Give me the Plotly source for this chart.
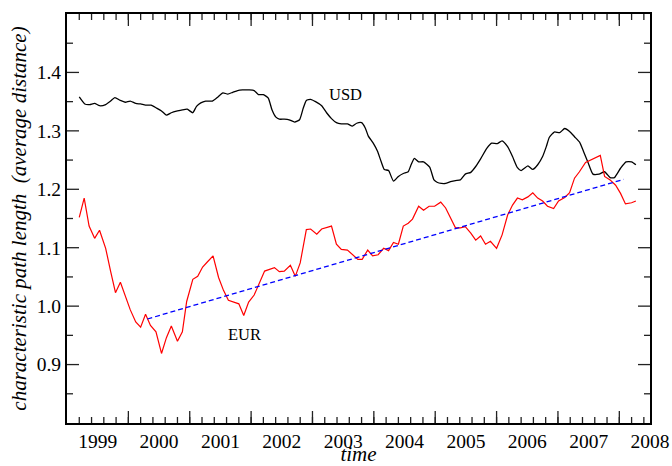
import plotly.graph_objects as go

# USD series (decimal year, average distance)
usd_year = [
    1998.70, 1998.79, 1998.87, 1998.95, 1999.03, 1999.13, 1999.21, 1999.28, 1999.37, 1999.45,
    1999.53, 1999.62, 1999.70, 1999.78, 1999.87, 1999.96, 2000.04, 2000.12, 2000.20, 2000.30,
    2000.38, 2000.46, 2000.55, 2000.61, 2000.68, 2000.76, 2000.87, 2000.96, 2001.04, 2001.12,
    2001.20, 2001.28, 2001.36, 2001.47, 2001.55, 2001.62, 2001.70, 2001.78, 2001.84, 2001.90,
    2001.96, 2002.04, 2002.12, 2002.21, 2002.29, 2002.35, 2002.40, 2002.47, 2002.55, 2002.65,
    2002.73, 2002.81, 2002.89, 2002.97, 2003.07, 2003.15, 2003.22, 2003.30, 2003.36, 2003.41,
    2003.49, 2003.56, 2003.62, 2003.67, 2003.74, 2003.82, 2003.90, 2003.98, 2004.06, 2004.10,
    2004.16, 2004.23, 2004.31, 2004.41, 2004.48, 2004.53, 2004.60, 2004.67, 2004.75, 2004.83,
    2004.91, 2004.99, 2005.08, 2005.16, 2005.24, 2005.34, 2005.42, 2005.51, 2005.59, 2005.68,
    2005.76, 2005.84, 2005.90, 2006.01, 2006.09, 2006.17, 2006.25, 2006.31, 2006.36, 2006.44,
    2006.53, 2006.61, 2006.69, 2006.77, 2006.85, 2006.92, 2006.99, 2007.07, 2007.17, 2007.26,
    2007.35, 2007.42, 2007.52, 2007.61, 2007.70, 2007.77,
]
usd_dist = [
    1.358, 1.346, 1.345, 1.347, 1.343, 1.345, 1.351, 1.357, 1.352, 1.349,
    1.351, 1.347, 1.346, 1.344, 1.344, 1.339, 1.334, 1.327, 1.331, 1.334,
    1.336, 1.337, 1.331, 1.342, 1.348, 1.351, 1.351, 1.358, 1.365, 1.363,
    1.366, 1.369, 1.370, 1.370, 1.369, 1.362, 1.362, 1.356, 1.336, 1.324,
    1.320, 1.320, 1.319, 1.315, 1.319, 1.339, 1.352, 1.354, 1.350, 1.343,
    1.331, 1.321, 1.314, 1.312, 1.312, 1.308, 1.313, 1.314, 1.305, 1.291,
    1.279, 1.265, 1.247, 1.234, 1.232, 1.214, 1.222, 1.227, 1.230, 1.240,
    1.253, 1.247, 1.247, 1.238, 1.216, 1.212, 1.210, 1.210, 1.213, 1.215,
    1.216, 1.226, 1.229, 1.239, 1.252, 1.270, 1.279, 1.278, 1.283, 1.273,
    1.256, 1.237, 1.232, 1.240, 1.234, 1.242, 1.256, 1.273, 1.289, 1.298,
    1.297, 1.304, 1.299, 1.290, 1.281, 1.264, 1.246, 1.226, 1.226, 1.230,
    1.220, 1.220, 1.236, 1.247, 1.247, 1.242,
]

# EUR series
eur_year = [
    1998.70, 1998.78, 1998.86, 1998.95, 1999.03, 1999.13, 1999.21, 1999.29, 1999.37, 1999.45,
    1999.53, 1999.62, 1999.70, 1999.78, 1999.86, 1999.95, 2000.04, 2000.12, 2000.20, 2000.30,
    2000.38, 2000.45, 2000.55, 2000.63, 2000.71, 2000.79, 2000.88, 2000.97, 2001.05, 2001.13,
    2001.21, 2001.30, 2001.38, 2001.46, 2001.55, 2001.63, 2001.72, 2001.80, 2001.88, 2001.96,
    2002.04, 2002.14, 2002.22, 2002.30, 2002.35, 2002.40, 2002.47, 2002.57, 2002.65, 2002.73,
    2002.81, 2002.89, 2002.97, 2003.07, 2003.15, 2003.24, 2003.31, 2003.40, 2003.48, 2003.57,
    2003.66, 2003.74, 2003.82, 2003.90, 2003.98, 2004.06, 2004.13, 2004.23, 2004.31, 2004.40,
    2004.49, 2004.59, 2004.67, 2004.75, 2004.83, 2004.91, 2004.99, 2005.08, 2005.16, 2005.24,
    2005.32, 2005.40, 2005.50, 2005.59, 2005.68, 2005.76, 2005.84, 2005.92, 2006.01, 2006.09,
    2006.17, 2006.25, 2006.33, 2006.43, 2006.51, 2006.61, 2006.69, 2006.77, 2006.85, 2006.95,
    2007.04, 2007.12, 2007.19, 2007.26, 2007.35, 2007.44, 2007.52, 2007.60, 2007.70, 2007.77,
]
eur_dist = [
    1.152, 1.185, 1.137, 1.116, 1.130, 1.099, 1.060, 1.023, 1.041, 1.019,
    0.994, 0.973, 0.964, 0.986, 0.967, 0.956, 0.919, 0.946, 0.966, 0.940,
    0.956, 1.008, 1.046, 1.051, 1.067, 1.076, 1.086, 1.049, 1.027, 1.010,
    1.007, 1.004, 0.984, 1.007, 1.019, 1.039, 1.060, 1.063, 1.066, 1.059,
    1.060, 1.070, 1.051, 1.074, 1.102, 1.131, 1.132, 1.123, 1.132, 1.134,
    1.137, 1.106, 1.097, 1.096, 1.089, 1.080, 1.080, 1.096, 1.086, 1.088,
    1.099, 1.095, 1.109, 1.106, 1.137, 1.142, 1.149, 1.171, 1.164, 1.171,
    1.171, 1.178, 1.168, 1.152, 1.134, 1.134, 1.136, 1.125, 1.113, 1.120,
    1.106, 1.111, 1.099, 1.122, 1.156, 1.173, 1.185, 1.182, 1.187, 1.194,
    1.185, 1.180, 1.171, 1.167, 1.180, 1.186, 1.194, 1.219, 1.230, 1.246,
    1.251, 1.255, 1.258, 1.222, 1.216, 1.207, 1.193, 1.175, 1.177, 1.180,
]

# linear trend of EUR
trend_year = [1999.81, 2007.57]
trend_dist = [0.978, 1.217]

year_labels = [1999, 2000, 2001, 2002, 2003, 2004, 2005, 2006, 2007, 2008]
major_x = [1999.5, 2000.5, 2001.5, 2002.5, 2003.5, 2004.5, 2005.5, 2006.5, 2007.5]
minor_x = [round(1998.7 + 0.2 * i, 1) for i in range(47)]
y_labels = [0.9, 1.0, 1.1, 1.2, 1.3, 1.4]
minor_y = [0.85, 0.95, 1.05, 1.15, 1.25, 1.35, 1.45]

serif = "Liberation Serif"
tick_col = "#222222"
x_range = [1998.5, 2008.0]
y_range = [0.8, 1.5]

fig = go.Figure()
fig.add_trace(go.Scatter(x=usd_year, y=usd_dist, mode="lines",
                         line=dict(color="#000000", width=1.3, shape="spline", smoothing=0.5),
                         showlegend=False))
fig.add_trace(go.Scatter(x=eur_year, y=eur_dist, mode="lines",
                         line=dict(color="#ff0000", width=1.2), showlegend=False))
fig.add_trace(go.Scatter(x=trend_year, y=trend_dist, mode="lines",
                         line=dict(color="#0000ff", width=1.3, dash="5px,3px"),
                         showlegend=False))

fig.add_annotation(x=2003.04, y=1.363, text="USD", showarrow=False,
                   font=dict(family=serif, size=16.5, color="#000000"))
fig.add_annotation(x=2001.40, y=0.952, text="EUR", showarrow=False,
                   font=dict(family=serif, size=16.5, color="#000000"))

# inside tick marks on all four sides (xmgrace style), lengths in paper fractions
plot_w, plot_h = 583, 409
for xs, length in ((minor_x, 6), (major_x, 12)):
    frac = length / plot_h
    for xv in xs:
        for y0, y1 in ((0, frac), (1, 1 - frac)):
            fig.add_shape(type="line", xref="x", yref="paper", x0=xv, x1=xv, y0=y0, y1=y1,
                          line=dict(color=tick_col, width=1.3))
for ys, length in ((minor_y, 6), (y_labels, 12)):
    frac = length / plot_w
    for yv in ys:
        for x0, x1 in ((0, frac), (1, 1 - frac)):
            fig.add_shape(type="line", xref="paper", yref="y", x0=x0, x1=x1, y0=yv, y1=yv,
                          line=dict(color=tick_col, width=1.3))

fig.update_layout(
    width=672, height=466,
    margin=dict(l=67, r=22, t=14, b=43, autoexpand=False),
    paper_bgcolor="white", plot_bgcolor="white",
    font=dict(family=serif, color="#000000"),
    xaxis=dict(
        range=x_range, automargin=False,
        tickvals=year_labels, ticktext=[str(v) for v in year_labels],
        ticks="", showgrid=False, zeroline=False,
        showline=True, linecolor="black", linewidth=2, mirror=True,
        tickfont=dict(family=serif, size=19.5),
        title=dict(text="<i>time</i>", font=dict(family=serif, size=21), standoff=3),
    ),
    yaxis=dict(
        range=y_range, automargin=False,
        tickvals=y_labels, ticktext=["%.1f" % v for v in y_labels],
        ticks="", showgrid=False, zeroline=False,
        showline=True, linecolor="black", linewidth=2, mirror=True,
        tickfont=dict(family=serif, size=19.5),
        title=dict(text="<i>characteristic path length\u00a0 (average distance)</i>",
                   font=dict(family=serif, size=21), standoff=4),
    ),
)

# the page's default body margin would shift the figure by 8px
fig.write_html("out.html", config={"displayModeBar": False},
               post_script="document.body.style.margin = '0';")
